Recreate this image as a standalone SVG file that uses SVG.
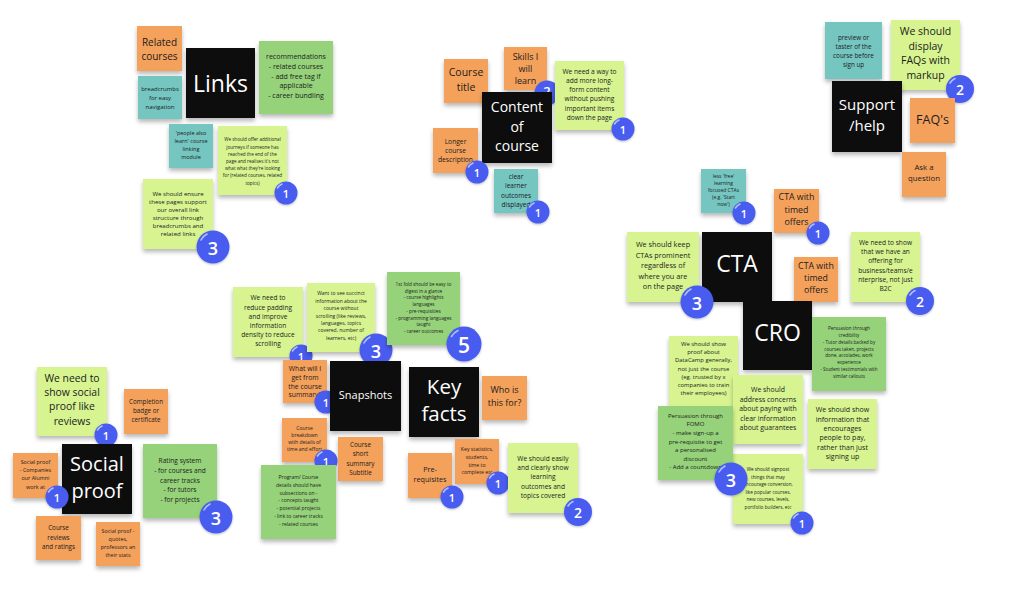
<svg xmlns="http://www.w3.org/2000/svg" width="1024" height="613" viewBox="0 0 1024 613">
<defs>
<filter id="sh" x="-20%" y="-20%" width="140%" height="150%">
<feDropShadow dx="0" dy="3" stdDeviation="2.2" flood-color="#000" flood-opacity="0.28"/>
</filter>
<filter id="bsh" x="-30%" y="-30%" width="160%" height="160%">
<feDropShadow dx="0" dy="1" stdDeviation="1" flood-color="#000" flood-opacity="0.25"/>
</filter>
</defs>
<style>
text{font-family:"Open Sans","DejaVu Sans",sans-serif;text-anchor:middle;dominant-baseline:central;fill:#1c1c1c}
.n{filter:url(#sh)}
.o{fill:#F4A15C}
.g{fill:#D7F491}
.d{fill:#95D27A}
.t{fill:#74C6C1}
.k{fill:#0c0c0c}
text.w{fill:#ffffff}
.b{fill:#4A5CF0;filter:url(#bsh)}
.bh{fill:none;stroke:#AFC0FF;stroke-width:1.6;stroke-linecap:round}
text.bn{fill:#ffffff;font-weight:600}
</style>
<rect width="1024" height="613" fill="#ffffff"/>

<g id="links-related"><rect class="n o" x="137" y="26" width="45" height="45"/><text font-size="10"><tspan x="159.5" y="41.5">Related</tspan><tspan x="159.5" dy="14">courses</tspan></text></g>
<g id="links-breadcrumbs"><rect class="n t" x="138" y="76" width="44" height="43"/><text font-size="6"><tspan x="160" y="88.5">breadcrumbs</tspan><tspan x="160" dy="9">for easy</tspan><tspan x="160" dy="9">navigation</tspan></text></g>
<g id="links"><rect class="n k" x="186" y="48" width="69" height="70"/><text class="w" font-size="23" x="220.5" y="83">Links</text></g>
<g id="links-recommendations"><rect class="n d" x="259" y="41" width="74" height="73"/><text font-size="7"><tspan x="296" y="56">recommendations</tspan><tspan x="296" dy="9.8">- related courses</tspan><tspan x="296" dy="9.8">- add free tag if</tspan><tspan x="296" dy="9.8">applicable</tspan><tspan x="296" dy="9.8">- career bundling</tspan></text></g>
<g id="links-people"><rect class="n t" x="169" y="124" width="44" height="44"/><text font-size="5.5"><tspan x="191" y="133">'people also</tspan><tspan x="191" dy="8">learn' course</tspan><tspan x="191" dy="8">linking</tspan><tspan x="191" dy="8">module</tspan></text></g>
<g id="links-journeys"><rect class="n g" x="218" y="126" width="69" height="69"/><text font-size="4.6"><tspan x="252.5" y="139.3">We should offer additional</tspan><tspan x="252.5" dy="7.2">journeys if someone has</tspan><tspan x="252.5" dy="7.2">reached the end of the</tspan><tspan x="252.5" dy="7.2">page and realises it's not</tspan><tspan x="252.5" dy="7.2">what what they're looking</tspan><tspan x="252.5" dy="7.2">for (related courses, related</tspan><tspan x="252.5" dy="7.2">topics)</tspan></text>
<circle class="b" cx="286" cy="193" r="11.5"/><path class="bh" d="M277.5,188 A9.5,9.5 0 0 1 282,184"/><text class="bn" font-size="11" x="286" y="193.5">1</text></g>
<g id="links-structure"><rect class="n g" x="143" y="179" width="70" height="70"/><text font-size="6.1"><tspan x="178" y="192.7">We should ensure</tspan><tspan x="178" dy="8">these pages support</tspan><tspan x="178" dy="8">our overall link</tspan><tspan x="178" dy="8">structure through</tspan><tspan x="178" dy="8">breadcrumbs and</tspan><tspan x="178" dy="8">related links</tspan></text>
<circle class="b" cx="213" cy="247" r="16.5"/><path class="bh" d="M201,240 A14,14 0 0 1 207,234"/><text class="bn" font-size="18" x="213" y="248">3</text></g>

<g id="content-title"><rect class="n o" x="444" y="59" width="44" height="44"/><text font-size="10.5"><tspan x="466" y="72.3">Course</tspan><tspan x="466" dy="14.4">title</tspan></text></g>
<g id="content-skills"><rect class="n o" x="504" y="47" width="43" height="43"/><text font-size="9"><tspan x="525.5" y="55.7">Skills I</tspan><tspan x="525.5" dy="12.2">will</tspan><tspan x="525.5" dy="12.2">learn</tspan></text>
<circle class="b" cx="547" cy="93" r="12.5"/><text class="bn" font-size="13" x="547" y="91">2</text></g>
<g id="content"><rect class="n k" x="482" y="92" width="70" height="71"/><text class="w" font-size="14"><tspan x="517" y="106">Content</tspan><tspan x="517" dy="19.5">of</tspan><tspan x="517" dy="19.5">course</tspan></text></g>
<g id="content-longform"><rect class="n g" x="555" y="61" width="69" height="69"/><text font-size="6.6"><tspan x="589.5" y="70.7">We need a way to</tspan><tspan x="589.5" dy="9.2">add more long-</tspan><tspan x="589.5" dy="9.2">form content</tspan><tspan x="589.5" dy="9.2">without pushing</tspan><tspan x="589.5" dy="9.2">important items</tspan><tspan x="589.5" dy="9.2">down the page</tspan></text>
<circle class="b" cx="623" cy="129" r="11.5"/><path class="bh" d="M614.5,124 A9.5,9.5 0 0 1 619,120"/><text class="bn" font-size="11" x="623" y="129.5">1</text></g>
<g id="content-longer"><rect class="n o" x="433" y="128" width="45" height="45"/><text font-size="6.7"><tspan x="455.5" y="140.7">Longer</tspan><tspan x="455.5" dy="9">course</tspan><tspan x="455.5" dy="9">description</tspan></text>
<circle class="b" cx="477" cy="172" r="11.5"/><path class="bh" d="M468.5,167 A9.5,9.5 0 0 1 473,163"/><text class="bn" font-size="11" x="477" y="172.5">1</text></g>
<g id="content-outcomes"><rect class="n t" x="494" y="169" width="44" height="44"/><text font-size="6.5"><tspan x="516" y="176">clear</tspan><tspan x="516" dy="9.3">learner</tspan><tspan x="516" dy="9.3">outcomes</tspan><tspan x="516" dy="9.3">displayed</tspan></text>
<circle class="b" cx="538" cy="212" r="11.5"/><path class="bh" d="M529.5,207 A9.5,9.5 0 0 1 534,203"/><text class="bn" font-size="11" x="538" y="212.5">1</text></g>

<g id="support-preview"><rect class="n t" x="825" y="22" width="57" height="57"/><text font-size="6.3"><tspan x="853.5" y="36.7">preview or</tspan><tspan x="853.5" dy="9">taster of the</tspan><tspan x="853.5" dy="9">course before</tspan><tspan x="853.5" dy="9">sign up</tspan></text></g>
<g id="support-faqmarkup"><rect class="n g" x="891" y="20" width="69" height="70"/><text font-size="10.5"><tspan x="925.5" y="30.7">We should</tspan><tspan x="925.5" dy="14.8">display</tspan><tspan x="925.5" dy="14.8">FAQs with</tspan><tspan x="925.5" dy="14.8">markup</tspan></text>
<circle class="b" cx="960" cy="89" r="14"/><path class="bh" d="M950,83 A11.5,11.5 0 0 1 955,78.5"/><text class="bn" font-size="14" x="960" y="89.5">2</text></g>
<g id="support"><rect class="n k" x="832" y="81" width="70" height="71"/><text class="w" font-size="15"><tspan x="867" y="104.3">Support</tspan><tspan x="867" dy="20.7">/help</tspan></text></g>
<g id="support-faqs"><rect class="n o" x="910" y="98" width="45" height="45"/><text font-size="12.5" x="932.5" y="119">FAQ's</text></g>
<g id="support-ask"><rect class="n o" x="902" y="152" width="44" height="45"/><text font-size="7.8"><tspan x="924" y="166.7">Ask a</tspan><tspan x="924" dy="11.7">question</tspan></text></g>

<g id="cta-free"><rect class="n t" x="701" y="169" width="45" height="44"/><text font-size="5"><tspan x="723.5" y="175.7">less 'free'</tspan><tspan x="723.5" dy="7">learning</tspan><tspan x="723.5" dy="7">focused CTAs</tspan><tspan x="723.5" dy="7">(e.g. 'Start</tspan><tspan x="723.5" dy="7">now')</tspan></text>
<circle class="b" cx="744" cy="213" r="11.5"/><path class="bh" d="M735.5,208 A9.5,9.5 0 0 1 740,204"/><text class="bn" font-size="11" x="744" y="213.5">1</text></g>
<g id="cta-timed1"><rect class="n o" x="774" y="189" width="45" height="44"/><text font-size="8.8"><tspan x="796.5" y="197.3">CTA with</tspan><tspan x="796.5" dy="12.5">timed</tspan><tspan x="796.5" dy="12.5">offers</tspan></text>
<circle class="b" cx="818" cy="233" r="11.5"/><path class="bh" d="M809.5,228 A9.5,9.5 0 0 1 814,224"/><text class="bn" font-size="11" x="818" y="233.5">1</text></g>
<g id="cta"><rect class="n k" x="702" y="232" width="70" height="70"/><text class="w" font-size="23" x="737" y="263.3">CTA</text></g>
<g id="cta-prominent"><rect class="n g" x="627" y="232" width="72" height="70"/><text font-size="7.3"><tspan x="663" y="244.3">We should keep</tspan><tspan x="663" dy="10.4">CTAs prominent</tspan><tspan x="663" dy="10.4">regardless of</tspan><tspan x="663" dy="10.4">where you are</tspan><tspan x="663" dy="10.4">on the page</tspan></text>
<circle class="b" cx="697" cy="302" r="16.5"/><path class="bh" d="M685,295 A14,14 0 0 1 691,289"/><text class="bn" font-size="18" x="697" y="303">3</text></g>
<g id="cta-timed2"><rect class="n o" x="794" y="257" width="44" height="45"/><text font-size="8.8"><tspan x="816" y="266">CTA with</tspan><tspan x="816" dy="12">timed</tspan><tspan x="816" dy="12">offers</tspan></text></g>
<g id="cta-business"><rect class="n g" x="851" y="232" width="69" height="70"/><text font-size="6.6"><tspan x="885.5" y="241.7">We need to show</tspan><tspan x="885.5" dy="9.3">that we have an</tspan><tspan x="885.5" dy="9.3">offering for</tspan><tspan x="885.5" dy="9.3">business/teams/e</tspan><tspan x="885.5" dy="9.3">nterprise, not just</tspan><tspan x="885.5" dy="9.3">B2C</tspan></text>
<circle class="b" cx="920" cy="301" r="14"/><path class="bh" d="M910,295 A11.5,11.5 0 0 1 915,290.5"/><text class="bn" font-size="14" x="920" y="301.5">2</text></g>

<g id="cro"><rect class="n k" x="743" y="301" width="69" height="69"/><text class="w" font-size="23" x="777.5" y="332.3">CRO</text></g>
<g id="cro-credibility"><rect class="n d" x="812" y="317" width="74" height="74"/><text font-size="4.6"><tspan x="849" y="328.3">Persuasion through</tspan><tspan x="849" dy="6.76">credibility</tspan><tspan x="849" dy="6.76">- Tutor details backed by</tspan><tspan x="849" dy="6.76">courses taken, projects</tspan><tspan x="849" dy="6.76">done, accolades, work</tspan><tspan x="849" dy="6.76">experience</tspan><tspan x="849" dy="6.76">- Student testimonials with</tspan><tspan x="849" dy="6.76">similar callouts</tspan></text></g>
<g id="cro-proof"><rect class="n g" x="669" y="336" width="69" height="70"/><text font-size="5.9"><tspan x="703.5" y="344">We should show</tspan><tspan x="703.5" dy="8.2">proof about</tspan><tspan x="703.5" dy="8.2">DataCamp generally,</tspan><tspan x="703.5" dy="8.2">not just the course</tspan><tspan x="703.5" dy="8.2">(eg. trusted by x</tspan><tspan x="703.5" dy="8.2">companies to train</tspan><tspan x="703.5" dy="8.2">their employees)</tspan></text></g>
<g id="cro-guarantees"><rect class="n g" x="733" y="375" width="70" height="69"/><text font-size="6.9"><tspan x="768" y="389.3">We should</tspan><tspan x="768" dy="9.4">address concerns</tspan><tspan x="768" dy="9.4">about paying with</tspan><tspan x="768" dy="9.4">clear information</tspan><tspan x="768" dy="9.4">about guarantees</tspan></text></g>
<g id="cro-pay"><rect class="n g" x="808" y="399" width="69" height="70"/><text font-size="7"><tspan x="842.5" y="409.3">We should show</tspan><tspan x="842.5" dy="9.3">information that</tspan><tspan x="842.5" dy="9.3">encourages</tspan><tspan x="842.5" dy="9.3">people to pay,</tspan><tspan x="842.5" dy="9.3">rather than just</tspan><tspan x="842.5" dy="9.3">signing up</tspan></text></g>
<g id="cro-signpost"><rect class="n g" x="733" y="454" width="70" height="70"/><text font-size="4.7"><tspan x="768" y="469.3">We should signpost</tspan><tspan x="768" dy="7.5">things that may</tspan><tspan x="768" dy="7.5">encourage conversion,</tspan><tspan x="768" dy="7.5">like popular courses,</tspan><tspan x="768" dy="7.5">new courses, levels,</tspan><tspan x="768" dy="7.5">portfolio builders, etc</tspan></text>
<circle class="b" cx="802" cy="523" r="11.5"/><path class="bh" d="M793.5,518 A9.5,9.5 0 0 1 798,514"/><text class="bn" font-size="11" x="802" y="523.5">1</text></g>
<g id="cro-fomo"><rect class="n d" x="658" y="406" width="75" height="74"/><text font-size="6"><tspan x="695.5" y="415.7">Persuasion through</tspan><tspan x="695.5" dy="8.6">FOMO</tspan><tspan x="695.5" dy="8.6">- make sign-up a</tspan><tspan x="695.5" dy="8.6">pre-requisite to get</tspan><tspan x="695.5" dy="8.6">a personalised</tspan><tspan x="695.5" dy="8.6">discount</tspan><tspan x="695.5" dy="8.6">-  Add a countdown</tspan></text>
<circle class="b" cx="731" cy="479" r="16.5"/><path class="bh" d="M719,472 A14,14 0 0 1 725,466"/><text class="bn" font-size="18" x="731" y="480">3</text></g>

<g id="snap-padding"><rect class="n g" x="233" y="287" width="70" height="70"/><text font-size="6.6"><tspan x="268" y="297.3">We need to</tspan><tspan x="268" dy="9.2">reduce padding</tspan><tspan x="268" dy="9.2">and improve</tspan><tspan x="268" dy="9.2">information</tspan><tspan x="268" dy="9.2">density to reduce</tspan><tspan x="268" dy="9.2">scrolling</tspan></text>
<circle class="b" cx="301" cy="356" r="11.5"/><path class="bh" d="M292.5,351 A9.5,9.5 0 0 1 297,347"/><text class="bn" font-size="11" x="301" y="356.5">1</text></g>
<g id="snap-succinct"><rect class="n g" x="307" y="283" width="68" height="69"/><text font-size="5"><tspan x="341" y="293.3">Want to see succinct</tspan><tspan x="341" dy="7.4">information about the</tspan><tspan x="341" dy="7.4">course without</tspan><tspan x="341" dy="7.4">scrolling (like reviews,</tspan><tspan x="341" dy="7.4">languages, topics</tspan><tspan x="341" dy="7.4">covered, number of</tspan><tspan x="341" dy="7.4">learners, etc)</tspan></text>
<circle class="b" cx="376" cy="350" r="16.5"/><path class="bh" d="M364,343 A14,14 0 0 1 370,337"/><text class="bn" font-size="18" x="376" y="351">3</text></g>
<g id="key-firstfold"><rect class="n d" x="387" y="272" width="73" height="73"/><text font-size="4.7"><tspan x="423.5" y="284">1st fold should be easy to</tspan><tspan x="423.5" dy="6.7">digest in a glance</tspan><tspan x="423.5" dy="6.7">- course highlights</tspan><tspan x="423.5" dy="6.7">languages</tspan><tspan x="423.5" dy="6.7">- pre-requisities</tspan><tspan x="423.5" dy="6.7">- programming languages</tspan><tspan x="423.5" dy="6.7">taught</tspan><tspan x="423.5" dy="6.7">- career outcomes</tspan></text>
<circle class="b" cx="464" cy="344" r="17.5"/><path class="bh" d="M451.5,336.5 A15,15 0 0 1 458,330.5"/><text class="bn" font-size="21" x="464" y="345">5</text></g>
<g id="snap-summary"><rect class="n o" x="283" y="360" width="44" height="43"/><text font-size="6.8"><tspan x="305" y="367.7">What will I</tspan><tspan x="305" dy="8.9">get from</tspan><tspan x="305" dy="8.9">the course</tspan><tspan x="305" dy="8.9">summary?</tspan></text>
<circle class="b" cx="326" cy="402" r="11.5"/><text class="bn" font-size="11" x="326" y="402.5">1</text></g>
<g id="snapshots"><rect class="n k" x="330" y="361" width="71" height="70"/><text class="w" font-size="11" x="365.5" y="394">Snapshots</text></g>
<g id="keyfacts"><rect class="n k" x="409" y="367" width="70" height="70"/><text class="w" font-size="20.5"><tspan x="444" y="385.7">Key</tspan><tspan x="444" dy="27">facts</tspan></text></g>
<g id="key-who"><rect class="n o" x="482" y="376" width="45" height="44"/><text font-size="9"><tspan x="504.5" y="389.3">Who is</tspan><tspan x="504.5" dy="13">this for?</tspan></text></g>
<g id="snap-breakdown"><rect class="n o" x="282" y="418" width="45" height="44"/><text font-size="5"><tspan x="304.5" y="427.7">Course</tspan><tspan x="304.5" dy="7.2">breakdown</tspan><tspan x="304.5" dy="7.2">with details of</tspan><tspan x="304.5" dy="7.2">time and effort</tspan></text>
<circle class="b" cx="326" cy="461" r="11.5"/><path class="bh" d="M317.5,456 A9.5,9.5 0 0 1 322,452"/><text class="bn" font-size="11" x="326" y="461.5">1</text></g>
<g id="snap-short"><rect class="n o" x="338" y="437" width="45" height="44"/><text font-size="6.4"><tspan x="360.5" y="444.3">Course</tspan><tspan x="360.5" dy="9.1">short</tspan><tspan x="360.5" dy="9.1">summary</tspan><tspan x="360.5" dy="9.1">Subtitle</tspan></text></g>
<g id="key-stats"><rect class="n o" x="455" y="439" width="44" height="45"/><text font-size="5.2"><tspan x="477" y="448.7">Key statistics,</tspan><tspan x="477" dy="7.9">students,</tspan><tspan x="477" dy="7.9">time to</tspan><tspan x="477" dy="7.9">complete etc</tspan></text>
<circle class="b" cx="498" cy="483" r="11.5"/><path class="bh" d="M489.5,478 A9.5,9.5 0 0 1 494,474"/><text class="bn" font-size="11" x="498" y="483.5">1</text></g>
<g id="key-prereq"><rect class="n o" x="408" y="453" width="44" height="45"/><text font-size="7.2"><tspan x="430" y="469">Pre-</tspan><tspan x="430" dy="10">requisites</tspan></text>
<circle class="b" cx="452" cy="497" r="11.5"/><path class="bh" d="M443.5,492 A9.5,9.5 0 0 1 448,488"/><text class="bn" font-size="11" x="452" y="497.5">1</text></g>
<g id="key-outcomes"><rect class="n g" x="508" y="443" width="70" height="70"/><text font-size="6.6"><tspan x="543" y="457.7">We should easily</tspan><tspan x="543" dy="9.3">and clearly show</tspan><tspan x="543" dy="9.3">learning</tspan><tspan x="543" dy="9.3">outcomes and</tspan><tspan x="543" dy="9.3">topics covered</tspan></text>
<circle class="b" cx="578" cy="512" r="14"/><path class="bh" d="M568,506 A11.5,11.5 0 0 1 573,501.5"/><text class="bn" font-size="14" x="578" y="512.5">2</text></g>
<g id="snap-program"><rect class="n d" x="261" y="465" width="75" height="74"/><text font-size="5"><tspan x="298.5" y="476.7">Program/ Course</tspan><tspan x="298.5" dy="7.9">details should have</tspan><tspan x="298.5" dy="7.9">subsections on -</tspan><tspan x="298.5" dy="7.9">- concepts taught</tspan><tspan x="298.5" dy="7.9">- potential projects</tspan><tspan x="298.5" dy="7.9">- link to career tracks</tspan><tspan x="298.5" dy="7.9">- related courses</tspan></text></g>

<g id="social-reviews"><rect class="n g" x="37" y="367" width="70" height="69"/><text font-size="10.4"><tspan x="72" y="377.7">We need to</tspan><tspan x="72" dy="14.3">show social</tspan><tspan x="72" dy="14.3">proof like</tspan><tspan x="72" dy="14.3">reviews</tspan></text>
<circle class="b" cx="106" cy="435" r="11.5"/><path class="bh" d="M97.5,430 A9.5,9.5 0 0 1 102,426"/><text class="bn" font-size="11" x="106" y="435.5">1</text></g>
<g id="social-completion"><rect class="n o" x="124" y="389" width="44" height="45"/><text font-size="6.3"><tspan x="146" y="401">Completion</tspan><tspan x="146" dy="9.2">badge or</tspan><tspan x="146" dy="9.2">certificate</tspan></text></g>
<g id="social"><rect class="n k" x="62" y="444" width="70" height="70"/><text class="w" font-size="20"><tspan x="97" y="462.7">Social</tspan><tspan x="97" dy="27.3">proof</tspan></text></g>
<g id="social-companies"><rect class="n o" x="13" y="453" width="45" height="45"/><text font-size="5.4"><tspan x="35.5" y="461.7">Social proof</tspan><tspan x="35.5" dy="8.3">- Companies</tspan><tspan x="35.5" dy="8.3">our Alumni</tspan><tspan x="35.5" dy="8.3">work at</tspan></text>
<circle class="b" cx="57" cy="497" r="11.5"/><path class="bh" d="M48.5,492 A9.5,9.5 0 0 1 53,488"/><text class="bn" font-size="11" x="57" y="497.5">1</text></g>
<g id="social-rating"><rect class="n d" x="143" y="444" width="74" height="74"/><text font-size="6.6"><tspan x="180" y="460">Rating system</tspan><tspan x="180" dy="9.8">- for courses and</tspan><tspan x="180" dy="9.8">career tracks</tspan><tspan x="180" dy="9.8">- for tutors</tspan><tspan x="180" dy="9.8">- for projects</tspan></text>
<circle class="b" cx="216" cy="517" r="16.5"/><path class="bh" d="M204,510 A14,14 0 0 1 210,504"/><text class="bn" font-size="18" x="216" y="518">3</text></g>
<g id="social-ratings"><rect class="n o" x="36" y="516" width="45" height="44"/><text font-size="6.3"><tspan x="58.5" y="527.3">Course</tspan><tspan x="58.5" dy="9.2">reviews</tspan><tspan x="58.5" dy="9.2">and ratings</tspan></text></g>
<g id="social-quotes"><rect class="n o" x="96" y="522" width="44" height="44"/><text font-size="5.4"><tspan x="118" y="531">Social proof -</tspan><tspan x="118" dy="8">quotes,</tspan><tspan x="118" dy="8">professors an</tspan><tspan x="118" dy="8">their stats</tspan></text></g>

<g id="connectors"></g>
</svg>
